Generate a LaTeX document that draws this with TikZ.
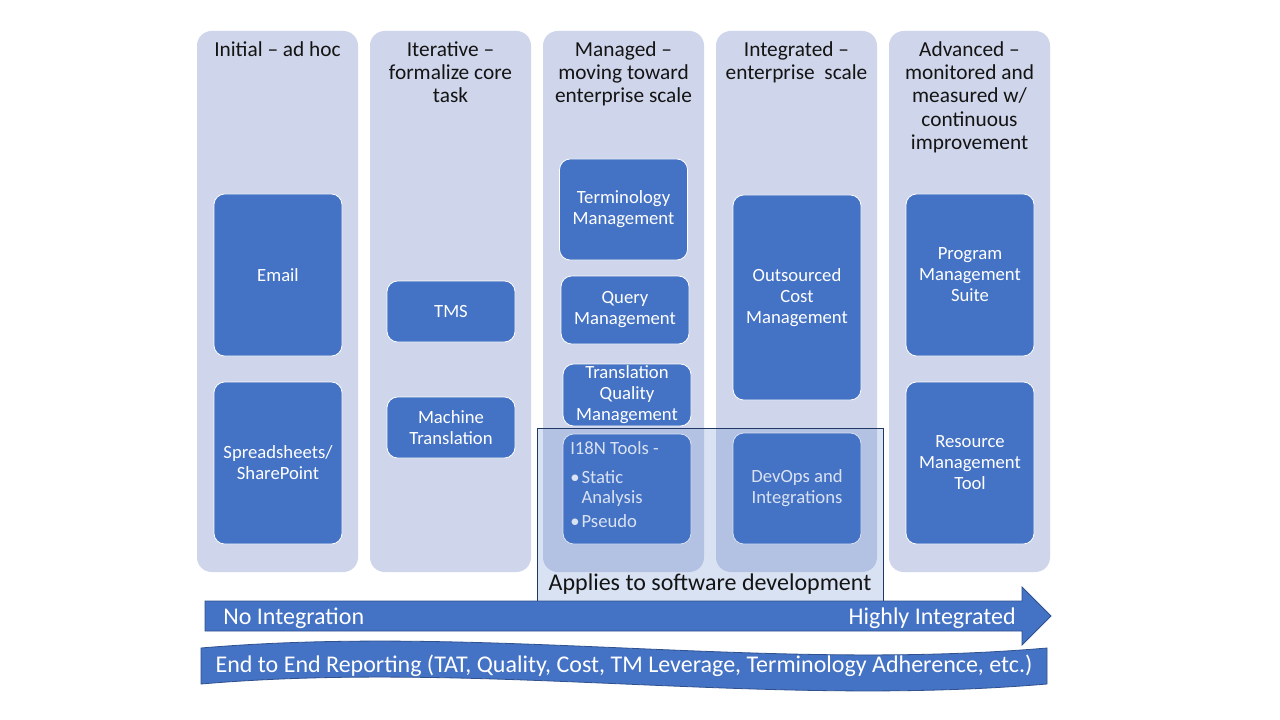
\documentclass[tikz,border=0pt]{standalone}
\usepackage{fontspec}
\setmainfont{Carlito}
\definecolor{accent}{HTML}{4472C4}
\definecolor{lanefill}{HTML}{CFD5EA}
\definecolor{edgeblue}{HTML}{2F528F}
\definecolor{framenavy}{HTML}{203864}
\begin{document}
\begin{tikzpicture}[x=0.75pt,y=-0.75pt,
  lanebox/.style={fill=lanefill, draw=none, rounded corners=11pt, inner sep=0pt,
    minimum width=120.75pt, minimum height=405.75pt},
  head/.style={anchor=north, align=center, inner sep=0pt, text=black!92,
    font=\fontsize{16}{17.5}\selectfont},
  task/.style={fill=accent, draw=white, line width=0.6pt, rounded corners=8pt,
    text=white, align=center, inner sep=1pt, minimum width=96pt,
    font=\fontsize{14}{15.8}\selectfont},
  bartext/.style={text=white, inner sep=0pt, font=\fontsize{18}{21}\selectfont},
]
\useasboundingbox (0,0) rectangle (1280,720);
\fill[white] (0,0) rectangle (1280,720);

% maturity columns
\node[lanebox] (c1) at (277.5,301.5) {};
\node[lanebox] (c2) at (450.5,301.5) {};
\node[lanebox] (c3) at (623.5,301.5) {};
\node[lanebox] (c4) at (796.5,301.5) {};
\node[lanebox] (c5) at (969.5,301.5) {};

% column headings
\node[head] (h1) at (277.5,41) {Initial -- ad hoc};
\node[head] (h2) at (450.5,41) {Iterative --\\formalize core\\task};
\node[head] (h3) at (623.5,41) {Managed --\\moving toward\\enterprise scale};
\node[head] (h4) at (796.5,41) {Integrated --\\enterprise\ \ scale};
\node[head] (h5) at (969.5,41) {Advanced --\\monitored and\\measured w/\\continuous\\improvement};

% tools per stage
\node[task, minimum height=121.5pt] (email) at (278,275) {Email};
\node[task, minimum height=121.5pt] (sheets) at (278,463) {Spreadsheets/\\SharePoint};
\node[task, minimum height=45.75pt] (tms) at (451,311.5) {TMS};
\node[task, minimum height=45.75pt] (mt) at (451,427.5) {Machine\\Translation};
\node[task, minimum height=75.75pt] (term) at (623.5,209.5) {Terminology\\Management};
\node[task, minimum height=51pt] (query) at (625,310) {Query\\Management};
\node[task, minimum height=46.5pt, inner sep=0pt] (tqm) at (627,395) {Translation\\Quality\\Management};
\node[task, minimum height=82.5pt] (i18n) at (627,489) {};
\node[text=white, anchor=north west, align=left, inner sep=0pt,
  font=\fontsize{14}{15.4}\selectfont] (i18ntext) at (570,441)
  {I18N Tools -\\[6.5pt]
   \makebox[8.5pt][l]{\textbullet}Static\\
   \hspace*{8.5pt}Analysis\\[2.5pt]
   \makebox[8.5pt][l]{\textbullet}Pseudo};
\node[task, minimum height=153.75pt] (ocm) at (797,297.5) {Outsourced\\Cost\\Management};
\node[task, minimum height=83.25pt] (devops) at (797,488.5) {DevOps and\\Integrations};
\node[task, minimum height=121.5pt] (pms) at (970,275) {Program\\Management\\Suite};
\node[task, minimum height=121.5pt] (rmt) at (970,463) {Resource\\Management\\Tool};

% software development overlay
\node[draw=framenavy, line width=0.6pt, fill=accent, fill opacity=0.2,
  inner sep=0pt, minimum width=259.5pt, minimum height=129.75pt] (sw) at (710,514.5) {};
\node[inner sep=0pt, text=black!92, font=\fontsize{18}{21}\selectfont] (swlabel) at (710,584)
  {Applies to software development};

% integration arrow
\draw[fill=accent, draw=edgeblue, line width=0.6pt]
  (205,601) -- (1022,601) -- (1022,587) -- (1051,616) -- (1022,645) -- (1022,631)
  -- (205,631) -- cycle;
\node[bartext, anchor=west] (noint) at (223,618) {No Integration};
\node[bartext, anchor=east] (hiint) at (1016,618) {Highly Integrated};

% reporting banner
\draw[fill=accent, draw=edgeblue, line width=0.6pt]
  (201,648) .. controls (483,624) and (765,672) .. (1047,648) -- (1047,684)
  .. controls (765,708) and (483,660) .. (201,684) -- cycle;
\node[bartext] (report) at (624,666)
  {End to End Reporting (TAT, Quality, Cost, TM Leverage, Terminology Adherence, etc.)};
\end{tikzpicture}
\end{document}
